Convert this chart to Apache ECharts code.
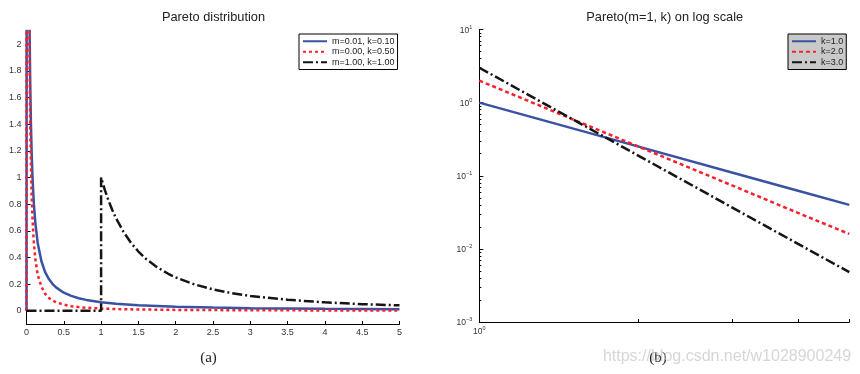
<!DOCTYPE html>
<html><head><meta charset="utf-8">
<script src="https://cdn.jsdelivr.net/npm/echarts@6/dist/echarts.min.js"></script>
<style>html,body{margin:0;padding:0;background:#fff}#c{width:860px;height:374px}</style>
</head><body><div id="c"></div>
<script>
// ---------- Data ----------
const titleA = 'Pareto distribution';
const titleB = 'Pareto(m=1, k) on log scale';
const legendA = ['m=0.01, k=0.10', 'm=0.00, k=0.50', 'm=1.00, k=1.00'];
const legendB = ['k=1.0', 'k=2.0', 'k=3.0'];

const leftYTicks = [0, 0.2, 0.4, 0.6, 0.8, 1, 1.2, 1.4, 1.6, 1.8, 2];

// left panel, series 1 (blue)
const blueX = [0, 0.01, 0.01, 0.02, 0.03, 0.04, 0.05, 0.06, 0.07, 0.08, 0.09, 0.1, 0.12, 0.15, 0.2, 0.25, 0.3, 0.35, 0.4, 0.5, 0.6, 0.7, 0.8, 1, 1.2, 1.5, 2, 2.5, 3, 4, 5];
const blueY = [0, 0, 12, 4.66, 2.98, 2.18, 1.70, 1.39, 1.175, 1.01, 0.892, 0.794, 0.650, 0.509, 0.371, 0.290, 0.237, 0.200, 0.173, 0.135, 0.111, 0.093, 0.081, 0.063, 0.052, 0.040, 0.029, 0.023, 0.019, 0.014, 0.011];
// left panel, series 2 (red)
const redX = [0, 0.001, 0.001, 0.01, 0.02, 0.03, 0.04, 0.05, 0.06, 0.07, 0.08, 0.09, 0.1, 0.12, 0.15, 0.2, 0.25, 0.3, 0.35, 0.4, 0.5, 0.6, 0.7, 0.8, 1, 1.2, 1.5, 2, 3, 4, 5];
const redY = [0, 0, 50, 15.8, 5.59, 3.04, 1.98, 1.41, 1.08, 0.853, 0.70, 0.585, 0.50, 0.38, 0.27, 0.18, 0.126, 0.096, 0.076, 0.063, 0.045, 0.034, 0.027, 0.022, 0.016, 0.012, 0.009, 0.006, 0.003, 0.002, 0.0014];
// left panel, series 3 (black)
const blackX = [0, 1, 1, 1.05, 1.1, 1.15, 1.2, 1.3, 1.4, 1.5, 1.6, 1.75, 1.9, 2, 2.25, 2.5, 2.75, 3, 3.5, 4, 4.5, 5];
const blackY = [0, 0, 1, 0.907, 0.826, 0.756, 0.694, 0.592, 0.51, 0.444, 0.39, 0.327, 0.277, 0.25, 0.198, 0.16, 0.132, 0.111, 0.082, 0.0625, 0.049, 0.04];

// right panel (log-log)
const logX = [1, 1.5, 2, 3, 4, 5];
const k1Y = [1, 0.444, 0.25, 0.111, 0.0625, 0.04];
const k2Y = [2, 0.593, 0.25, 0.074, 0.031, 0.016];
const k3Y = [3, 0.593, 0.1875, 0.037, 0.0117, 0.0048];

const logYMajor = [0.001, 0.01, 0.1, 1, 10];
const logYMinor = [0.002,0.003,0.004,0.005,0.006,0.007,0.008,0.009,
                   0.02,0.03,0.04,0.05,0.06,0.07,0.08,0.09,
                   0.2,0.3,0.4,0.5,0.6,0.7,0.8,0.9,
                   2,3,4,5,6,7,8,9];
const logXTicks = [2, 3, 4, 5];
const logXLabels = [1];

// ---------- Chart ----------
const zip = (xs, ys) => xs.map((x, i) => [x, ys[i]]);
const SANS = '"Liberation Sans", Arial, Helvetica, sans-serif';
const SERIF = '"Liberation Serif", "Times New Roman", serif';
const BLUE = '#3a52a3', RED = '#f5222d', BLACK = '#151515';
const DASH = [3, 3], DASHB = [4, 3], DASHDOT = [10, 3, 2, 3];

const supFmt = (v) => {
  const n = Math.round(Math.log10(v));
  return '{b|10}{s|' + (n < 0 ? '\u2212' + (-n) : n) + '}';
};
const supRich = {
  b: {fontSize: 8.5, color: '#333', fontFamily: SANS, lineHeight: 11, verticalAlign: 'bottom'},
  s: {fontSize: 5.5, color: '#333', fontFamily: SANS, lineHeight: 11, verticalAlign: 'top', padding: [0, 0, 4, 0]}
};
const axisLineBlack = {show: true, onZero: false, lineStyle: {color: '#000', width: 1}};
const legendCommon = {
  orient: 'vertical', top: 34, itemWidth: 24, itemHeight: 8, itemGap: 0,
  padding: [2, 3], borderColor: '#000', borderWidth: 1, borderRadius: 0,
  itemStyle: {opacity: 0, borderWidth: 0},
  textStyle: {fontSize: 9, color: '#222', fontFamily: SANS, lineHeight: 10.5}, selectedMode: false
};

const option = {
  animation: false,
  backgroundColor: '#fff',
  textStyle: {fontFamily: SANS},
  grid: [
    {left: 26.5, right: 460.5, top: 31, bottom: 50, outerBoundsMode: 'none'},
    {left: 479.3, right: 10.7, top: 29.5, bottom: 52, outerBoundsMode: 'none'}
  ],
  xAxis: [
    {gridIndex: 0, type: 'value', min: 0, max: 5, interval: 0.5,
     axisLine: axisLineBlack, splitLine: {show: false},
     axisTick: {inside: true, length: 3, lineStyle: {color: '#000'}},
     axisLabel: {fontSize: 9, color: '#333', margin: 4, fontFamily: SANS}},
    {gridIndex: 1, type: 'log', logBase: 10, min: 1, max: 5,
     axisLine: axisLineBlack, splitLine: {show: false},
     axisTick: {inside: true, length: 3, customValues: logXTicks, lineStyle: {color: '#000'}},
     axisLabel: {customValues: logXLabels, formatter: supFmt, rich: supRich, margin: 3}}
  ],
  yAxis: [
    {gridIndex: 0, type: 'value', min: -0.1, max: 2.1,
     axisLine: axisLineBlack, splitLine: {show: false},
     axisTick: {inside: true, length: 4, customValues: leftYTicks, lineStyle: {color: '#000'}},
     axisLabel: {customValues: leftYTicks, fontSize: 9, color: '#333', margin: 5, fontFamily: SANS}},
    {gridIndex: 1, type: 'log', logBase: 10, min: 0.001, max: 10, position: 'left',
     axisLine: axisLineBlack, splitLine: {show: false},
     axisTick: {inside: true, length: 4, customValues: logYMajor, lineStyle: {color: '#000'}},
     axisLabel: {customValues: logYMajor, formatter: supFmt, rich: supRich, margin: 7}},
    {gridIndex: 1, type: 'log', logBase: 10, min: 0.001, max: 10, position: 'left',
     axisLine: {show: false}, splitLine: {show: false},
     axisTick: {inside: true, length: 2, customValues: logYMinor, lineStyle: {color: '#000'}},
     axisLabel: {show: false}}
  ],
  legend: [
    Object.assign({}, legendCommon, {data: legendA, left: 299, backgroundColor: '#fff'}),
    Object.assign({}, legendCommon, {data: legendB, left: 788, backgroundColor: '#c9c9c9'})
  ],
  series: [
    {name: legendA[0], type: 'line', xAxisIndex: 0, yAxisIndex: 0, data: zip(blueX, blueY), symbol: 'none',
     lineStyle: {color: BLUE, width: 2.5, type: 'solid'}, itemStyle: {color: BLUE}, clip: true},
    {name: legendA[1], type: 'line', xAxisIndex: 0, yAxisIndex: 0, data: zip(redX, redY), symbol: 'none',
     lineStyle: {color: RED, width: 2.5, type: DASH}, itemStyle: {color: RED}, clip: true},
    {name: legendA[2], type: 'line', xAxisIndex: 0, yAxisIndex: 0, data: zip(blackX, blackY), symbol: 'none',
     lineStyle: {color: BLACK, width: 2.5, type: DASHDOT}, itemStyle: {color: BLACK}, clip: true},
    {name: legendB[0], type: 'line', xAxisIndex: 1, yAxisIndex: 1, data: zip(logX, k1Y), symbol: 'none',
     lineStyle: {color: BLUE, width: 2.5, type: 'solid'}, itemStyle: {color: BLUE}, clip: true},
    {name: legendB[1], type: 'line', xAxisIndex: 1, yAxisIndex: 1, data: zip(logX, k2Y), symbol: 'none',
     lineStyle: {color: RED, width: 2.5, type: DASHB}, itemStyle: {color: RED}, clip: true},
    {name: legendB[2], type: 'line', xAxisIndex: 1, yAxisIndex: 1, data: zip(logX, k3Y), symbol: 'none',
     lineStyle: {color: BLACK, width: 2.5, type: DASHDOT}, itemStyle: {color: BLACK}, clip: true}
  ],
  graphic: [
    {type: 'text', x: 213.5, y: 17.5, style: {text: titleA, fill: '#222', font: '12.8px ' + SANS, align: 'center', verticalAlign: 'middle'}},
    {type: 'text', x: 664.7, y: 17.5, style: {text: titleB, fill: '#222', font: '12.8px ' + SANS, align: 'center', verticalAlign: 'middle'}},
    {type: 'text', x: 208.5, y: 358.5, style: {text: '(a)', fill: '#222', font: '15px ' + SERIF, align: 'center', verticalAlign: 'middle'}},
    {type: 'text', x: 658, y: 358.5, style: {text: '(b)', fill: '#222', font: '15px ' + SERIF, align: 'center', verticalAlign: 'middle'}},
    {type: 'text', x: 727, y: 356.5, z: 100, style: {text: 'https://blog.csdn.net/w1028900249', fill: 'rgba(200,200,200,0.75)', font: '16px ' + SANS, align: 'center', verticalAlign: 'middle'}}
  ]
};

const chart = echarts.init(document.getElementById('c'), null, {renderer: 'canvas'});
chart.setOption(option);
</script>
</body></html>
